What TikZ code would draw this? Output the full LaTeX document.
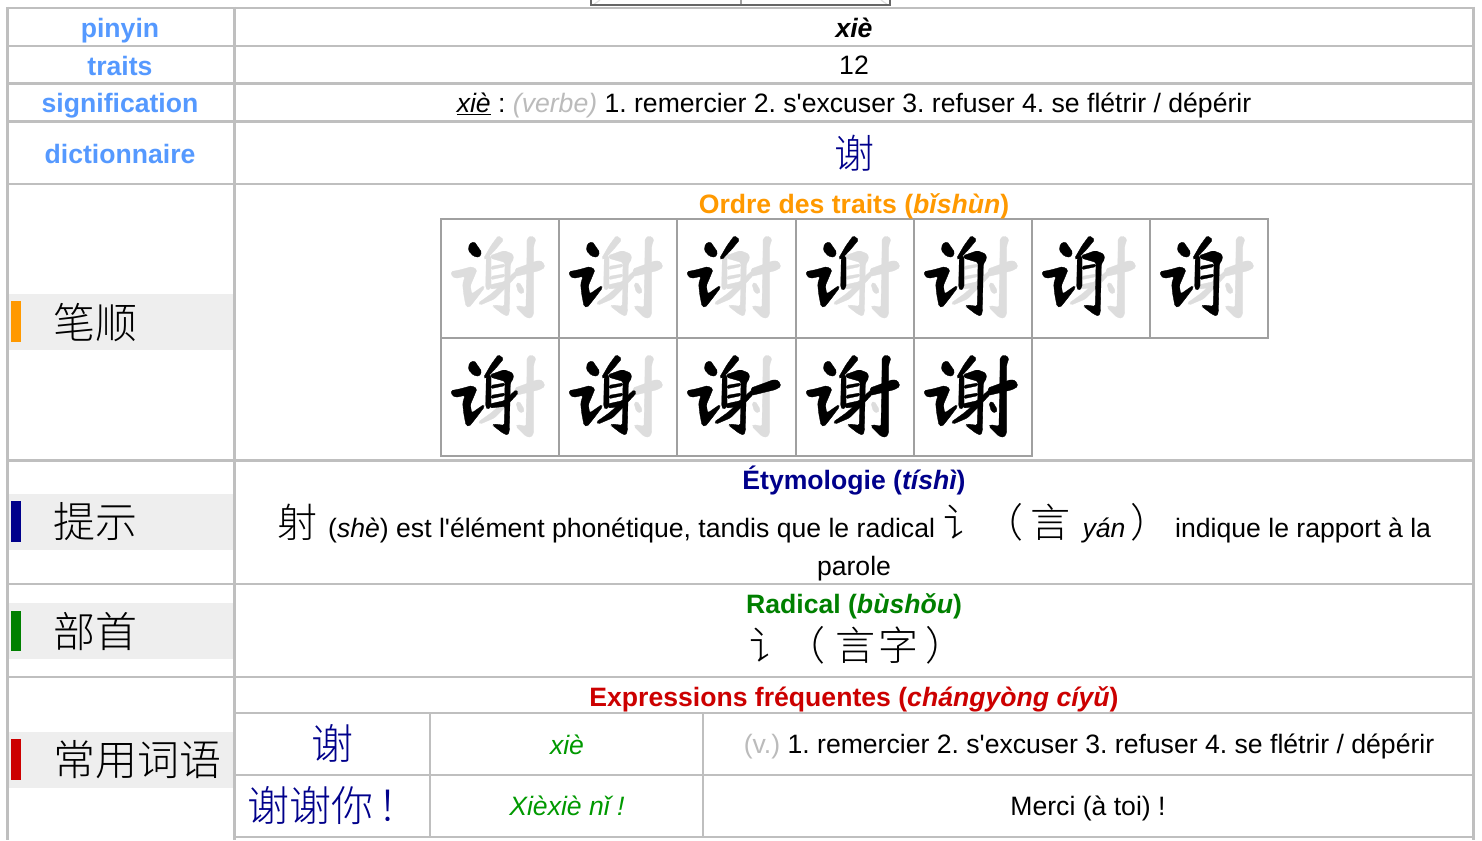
\documentclass[tikz,border=0pt]{standalone}
\usepackage{fontspec}
\setmainfont[Ligatures=TeXOff]{Liberation Sans}
\newfontfamily\cjk{Noto Sans CJK SC Light}
\newcommand\fs[1]{\fontsize{#1pt}{#1pt}\selectfont}
\definecolor{gridgray}{HTML}{BFBFBF}
\definecolor{cellgray}{HTML}{A0A0A0}
\definecolor{bandgray}{HTML}{EEEEEE}
\definecolor{labelblue}{HTML}{5599FF}
\definecolor{orangeT}{HTML}{FF9900}
\definecolor{navyT}{HTML}{00008B}
\definecolor{greenT}{HTML}{008000}
\definecolor{redT}{HTML}{CC0000}
\definecolor{pygreen}{HTML}{009900}
\definecolor{softgray}{HTML}{BBBBBB}
\definecolor{ghost}{HTML}{DDDDDD}
\tikzset{
  gridline/.style={draw=gridgray,line width=2.1pt},
  cellline/.style={draw=cellgray,line width=2pt},
  body/.style={font=\fs{26.6},inner sep=0pt,anchor=base},
  lab/.style={body,font=\fs{26.6}\bfseries,text=labelblue},
  head/.style={body,font=\fs{26.6}\bfseries},
  zh/.style={font=\cjk\fs{40},inner sep=0pt,anchor=base},
  zhbig/.style={font=\cjk\fs{42},inner sep=0pt,anchor=base},
  band/.style={fill=bandgray,draw=none},
}
% the twelve strokes of the character, in cell coordinates 0..354
\def\skA{(85,75)--(100,68)--(122,100)--(115,115)--(98,112)--(82,95)--cycle}
\def\skB{(30,158)--(60,152)--(92,143)--(108,152)--(100,172)--(88,200)--(92,225)--(128,200)--(130,207)--(105,240)--(85,265)--(75,262)--(68,225)--(65,195)--(72,172)--(45,178)--(33,172)--cycle}
\def\skC{(172,50)--(188,62)--(165,90)--(135,122)--(128,118)--(150,80)--cycle}
\def\skD{(136,110)--(150,112)--(150,205)--(140,215)--(134,205)--cycle}
\def\skE{(148,110)--(190,95)--(215,105)--(218,120)--(208,135)--(205,280)--(200,292)--(185,285)--(155,262)--(160,258)--(190,262)--(192,130)--(150,118)--cycle}
\def\skF{(150,142)--(192,135)--(192,143)--(150,152)--cycle}
\def\skG{(150,172)--(192,165)--(192,173)--(150,182)--cycle}
\def\skH{(145,198)--(190,188)--(225,155)--(232,165)--(195,205)--(148,210)--cycle}
\def\skI{(185,195)--(195,205)--(160,240)--(118,258)--(112,252)--(150,225)--cycle}
\def\skJ{(222,150)--(290,125)--(305,128)--(312,145)--(295,155)--(225,172)--cycle}
\def\skK{(258,60)--(270,50)--(285,60)--(278,80)--(278,285)--(270,298)--(255,295)--(225,265)--(230,260)--(255,265)--(258,100)--cycle}
\def\skL{(225,195)--(235,190)--(250,215)--(245,225)--(232,220)--cycle}
\newcommand\strokecell[3]{%
  \begin{scope}[shift={(#1,#2)},x=0.3333pt,y=-0.3333pt,rounded corners=1.5pt,line width=0.3pt]
    \foreach \s in {A,B,C,D,E,F,G,H,I,J,K,L}{\filldraw[fill=ghost,draw=ghost] \csname sk\s\endcsname;}
    \foreach \s in {#3}{\filldraw[fill=black,draw=black] \csname sk\s\endcsname;}
  \end{scope}}
\begin{document}
\frenchspacing
\begin{tikzpicture}[x=1pt,y=-1pt]
\useasboundingbox (0,0) rectangle (1482,840);
\fill[white] (0,0) rectangle (1482,840);
% top remnant of the box above the table
\draw[draw=black!12,line width=1.2pt] (593,5)--(600,0) (888,5)--(881,0);
\draw[draw=cellgray,line width=1.2pt] (741,-2)--(741,5);
\draw[draw=black!60,line width=2pt] (591,-2)--(591,5.5)--(890,5.5)--(890,-2);
% label bands
\fill[band] (9,294) rectangle (234,350);
\fill[band] (9,494) rectangle (234,550);
\fill[band] (9,603) rectangle (234,659);
\fill[band] (9,732) rectangle (234,788);
\fill[orangeT] (10.5,301) rectangle (20.5,342);
\fill[navyT] (10.5,501) rectangle (20.5,542);
\fill[greenT] (10.5,611) rectangle (20.5,651);
\fill[redT] (10.5,739) rectangle (20.5,780);
% table grid
\draw[gridline] (7,8)--(1474,8) (7,46)--(1474,46) (7,83.5)--(1474,83.5)
  (7,184)--(1474,184) (7,460.5)--(1474,460.5) (7,584)--(1474,584) (7,677)--(1474,677)
  (234,713)--(1474,713) (234,775)--(1474,775) (234,837)--(1474,837);
\draw[gridline,line width=3pt] (7,121.5)--(1474,121.5);
\draw[gridline] (7.5,7)--(7.5,840) (234.5,7)--(234.5,840) (1473.5,7)--(1473.5,840)
  (430,713)--(430,837) (703,713)--(703,837);
% stroke-order grid
\strokecell{441}{219}{A}
\strokecell{559}{219}{A,B}
\strokecell{677}{219}{A,B,C}
\strokecell{796}{219}{A,B,C,D}
\strokecell{914}{219}{A,B,C,D,E}
\strokecell{1032}{219}{A,B,C,D,E,F}
\strokecell{1150}{219}{A,B,C,D,E,F,G}
\strokecell{441}{338}{A,B,C,D,E,F,G,H}
\strokecell{559}{338}{A,B,C,D,E,F,G,H,I}
\strokecell{677}{338}{A,B,C,D,E,F,G,H,I,J}
\strokecell{796}{338}{A,B,C,D,E,F,G,H,I,J,K}
\strokecell{914}{338}{A,B,C,D,E,F,G,H,I,J,K,L}
\draw[cellline] (440,219)--(1269,219) (440,337.5)--(1269,337.5) (440,456)--(1033,456)
  (441,218)--(441,457) (559,219)--(559,456) (677,219)--(677,456) (796,219)--(796,456)
  (914,219)--(914,456) (1032,218)--(1032,457) (1150,219)--(1150,337.5) (1268,218)--(1268,338.5);
% left labels
\node[lab] (lpinyin) at (120,38) {pinyin};
\node[lab] (ltraits) at (120,76) {traits};
\node[lab] (lsign) at (120,113) {signification};
\node[lab] (ldict) at (120,163) {dictionnaire};
\node[zhbig,anchor=base west] (lbishun) at (53,338) {笔顺};
\node[zhbig,anchor=base west] (ltishi) at (53,537) {提示};
\node[zhbig,anchor=base west] (lbushou) at (53,647) {部首};
\node[zhbig,anchor=base west] (lchangyong) at (53,775) {常用词语};
% upper rows
\node[body,font=\fs{26.6}\bfseries\itshape] (vpinyin) at (854,38) {xiè};
\node[body] (vtraits) at (854,75) {12};
\node[body] (vsign) at (854,113) {\underline{\textit{xiè}} : {\color{softgray}\textit{(verbe)}} 1. remercier 2. s'excuser 3. refuser 4. se flétrir / dépérir};
\node[zh,text=navyT] (vdict) at (854,168) {谢};
\node[head,text=orangeT] (tordre) at (854,213) {Ordre des traits (\textit{bǐshùn})};
% etymology
\node[head,text=navyT] (tetym) at (854,489) {Étymologie (\textit{tíshì})};
\node[zh,anchor=base west] (eshe) at (277,537) {射};
\node[body,anchor=base west] (etext) at (328,537) {(\textit{shè}) est l'élément phonétique, tandis que le radical};
\node[zh] (erad) at (963,537) {讠};
\node[zh] (eparl) at (1003,537) {（};
\node[zh] (eyan) at (1050,537) {言};
\node[body,font=\fs{26.6}\itshape] (eyanpy) at (1104,537) {yán};
\node[zh] (eparr) at (1150,537) {）};
\node[body,anchor=base west] (etextb) at (1175,537) {indique le rapport à la};
\node[body] (eparole) at (854,575) {parole};
% radical
\node[head,text=greenT] (trad) at (854,613) {Radical (\textit{bùshǒu})};
\node[zh] (rrad) at (769,660) {讠};
\node[zh] (rparl) at (805,660) {（};
\node[zh] (ryan) at (855,660) {言};
\node[zh] (rzi) at (898,660) {字};
\node[zh] (rparr) at (945,660) {）};
% expressions
\node[head,text=redT] (texpr) at (854,706) {Expressions fréquentes (\textit{chángyòng cíyǔ})};
\node[zhbig,text=navyT] (xa) at (332,759) {谢};
\node[body,font=\fs{26.6}\itshape,text=pygreen] (xb) at (567,754) {xiè};
\node[body] (xc) at (1089,753) {{\color{softgray}(v.)} 1. remercier 2. s'excuser 3. refuser 4. se flétrir / dépérir};
\node[zhbig,text=navyT,anchor=base west] (ya) at (247,821) {谢谢你\hspace{4pt}！};
\node[body,font=\fs{26.6}\itshape,text=pygreen] (yb) at (567,815) {Xièxiè nǐ !};
\node[body] (yc) at (1088,815) {Merci (à toi) !};
\end{tikzpicture}
\end{document}
